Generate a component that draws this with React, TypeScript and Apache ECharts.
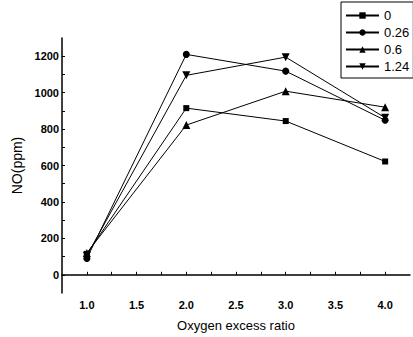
import React, { useEffect, useRef } from "react";
import * as echarts from "echarts";

const xValues = [1.0, 2.0, 3.0, 4.0];
const seriesNames = ["0", "0.26", "0.6", "1.24"];
const s0 = [115, 915, 844, 622];
const s026 = [90, 1210, 1118, 848];
const s06 = [120, 822, 1008, 920];
const s124 = [105, 1095, 1195, 862];
const seriesValues = [s0, s026, s06, s124];
const xTickLabels = ["1.0", "1.5", "2.0", "2.5", "3.0", "3.5", "4.0"];
const yTickLabels = ["0", "200", "400", "600", "800", "1000", "1200"];
const symbols = ["rect", "circle", "triangle", "path://M0,0 L10,0 L5,9 Z"];
const symbolSizes = [6, 7, 8, 8];

export default function App() {
  const ref = useRef<HTMLDivElement>(null);
  useEffect(() => {
    const chart = echarts.init(ref.current!, null, { renderer: "svg" });
    const font = "Arial, 'Liberation Sans', sans-serif";
    chart.setOption({
      animation: false,
      backgroundColor: "#fff",
      grid: { left: 62, right: 3, top: 38, bottom: 41 },
      legend: {
        orient: "vertical",
        left: 341,
        top: 2,
        width: 70,
        itemWidth: 33,
        itemHeight: 8,
        itemGap: 4,
        padding: [7, 4, 5, 4],
        borderColor: "#000",
        borderWidth: 1,
        textStyle: { fontFamily: font, fontSize: 13, color: "#000" },
        data: seriesNames,
      },
      xAxis: {
        type: "value",
        min: 0.75,
        max: 4.25,
        interval: 0.25,
        name: "Oxygen excess ratio",
        nameLocation: "middle",
        nameGap: 26,
        nameTextStyle: { fontFamily: font, fontSize: 13, color: "#000" },
        axisLine: { lineStyle: { color: "#000", width: 1.5 } },
        axisTick: { inside: true, length: 3, lineStyle: { color: "#000" } },
        axisLabel: {
          fontFamily: font,
          fontSize: 11,
          fontWeight: "bold",
          color: "#000",
          margin: 6,
          showMinLabel: false,
          showMaxLabel: false,
          formatter: (v: number) => {
            const s = v.toFixed(1);
            return Math.abs(v * 2 - Math.round(v * 2)) < 1e-6 && xTickLabels.includes(s) ? s : "";
          },
        },
        splitLine: { show: false },
      },
      yAxis: {
        type: "value",
        min: -100,
        max: 1300,
        interval: 100,
        name: "NO(ppm)",
        nameLocation: "middle",
        nameGap: 27,
        nameTextStyle: { fontFamily: font, fontSize: 14, color: "#000" },
        axisLine: { show: true, lineStyle: { color: "#000", width: 1.5 } },
        axisTick: { inside: true, length: 3, lineStyle: { color: "#000" } },
        axisLabel: {
          fontFamily: font,
          fontSize: 11,
          fontWeight: "bold",
          color: "#000",
          margin: 3,
          showMinLabel: false,
          showMaxLabel: false,
          formatter: (v: number) => {
            const s = String(Math.round(v));
            return yTickLabels.includes(s) ? s : "";
          },
        },
        splitLine: { show: false },
      },
      series: seriesNames.map((name, i) => ({
        name,
        type: "line",
        data: xValues.map((x, j) => [x, seriesValues[i][j]]),
        symbol: symbols[i],
        symbolSize: symbolSizes[i],
        showSymbol: true,
        lineStyle: { color: "#000", width: 1 },
        itemStyle: { color: "#000" },
      })),
    });
    return () => chart.dispose();
  }, []);
  return (
    <div
      ref={ref}
      style={{ position: "fixed", left: 0, top: 0, width: 413, height: 337, background: "#fff" }}
    />
  );
}
